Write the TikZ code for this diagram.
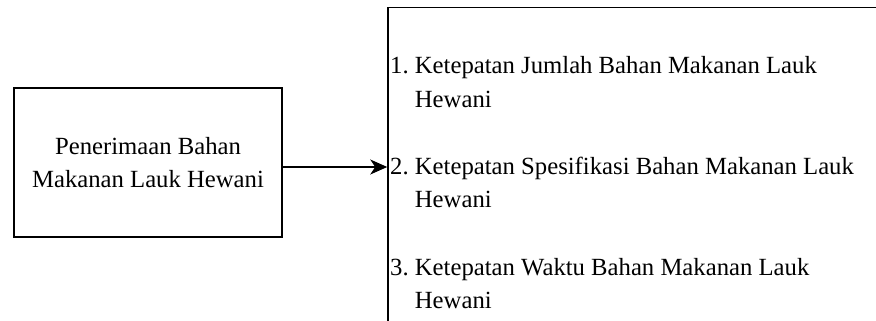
\documentclass[tikz,border=0pt]{standalone}
\usepackage{fontspec}
\setmainfont{Liberation Serif}
\usetikzlibrary{arrows.meta}
\begin{document}
\begin{tikzpicture}[x=1pt,y=-1pt,
  boxstyle/.style={draw=black,line width=1.5pt,rectangle,inner sep=0pt},
  txt/.style={inner sep=0pt,font=\fontsize{24.7}{33.5}\selectfont},
  arr/.style={line width=1.5pt,-{Stealth[length=17pt,width=15pt,inset=5pt]}}]
\useasboundingbox (0,0) rectangle (876,321);
\clip (0,0) rectangle (876,321);
\node[boxstyle,minimum width=268pt,minimum height=149pt] (L) at (148,162.5) {};
\node[boxstyle,minimum width=512pt,minimum height=332.5pt] (R) at (644,173.75) {};
\node[txt,anchor=base] (Lt) at (148,154) {\begin{tabular}[t]{@{}c@{}}Penerimaan Bahan\\Makanan Lauk Hewani\end{tabular}};
\node[txt,anchor=base west] (i1) at (390,74) {\begin{tabular}[t]{@{}l@{\ }l@{}}1.&Ketepatan Jumlah Bahan Makanan Lauk\\&Hewani\end{tabular}};
\node[txt,anchor=base west] (i2) at (390,174) {\begin{tabular}[t]{@{}l@{\ }l@{}}2.&Ketepatan Spesifikasi Bahan Makanan Lauk\\&Hewani\end{tabular}};
\node[txt,anchor=base west] (i3) at (390,275) {\begin{tabular}[t]{@{}l@{\ }l@{}}3.&Ketepatan Waktu Bahan Makanan Lauk\\&Hewani\end{tabular}};
\draw[arr] ([yshift=-4.5pt]L.east) -- ([yshift=-4.5pt]L.east -| R.west);
\end{tikzpicture}
\end{document}
